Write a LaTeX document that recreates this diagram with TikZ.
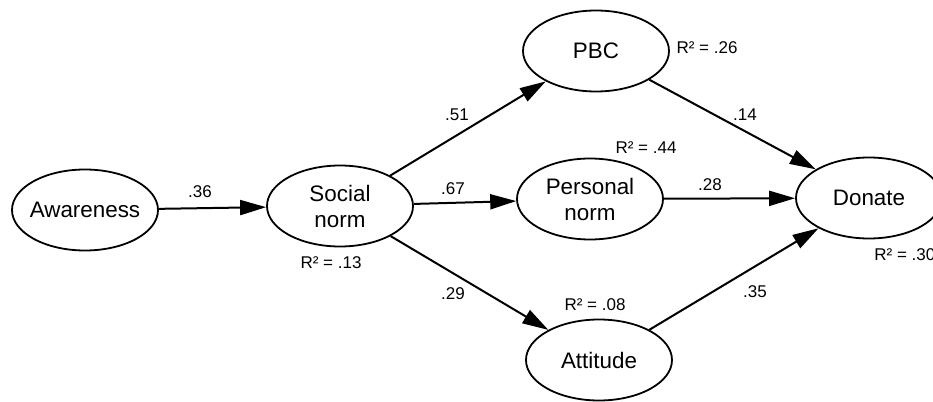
\documentclass[tikz,border=0pt]{standalone}
\usepackage{fontspec}
\setmainfont{Liberation Sans}
\usetikzlibrary{arrows.meta,shapes.geometric}

\begin{document}
\begin{tikzpicture}[x=0.5pt,y=-0.5pt,
  construct/.style={draw,ellipse,line width=0.9pt,minimum width=73pt,minimum height=40.5pt,
    inner xsep=-2pt,inner ysep=0pt,align=center,font=\fontsize{11.2}{13}\selectfont},
  link/.style={line width=1pt,-{Triangle[length=13pt,width=7.5pt]}},
  coef/.style={font=\fontsize{8.5}{10}\selectfont}]
\useasboundingbox (0,0) rectangle (933,402);
% constructs
\node[construct] (aware) at (85,210) {Awareness};
\node[construct] (social) at (340,206) {Social\\norm};
\node[construct] (pbc) at (596,51) {PBC};
\node[construct] (pnorm) at (590,199) {Personal\\norm};
\node[construct] (att) at (599,360) {Attitude};
\node[construct] (donate) at (869,198) {Donate};
% paths
\draw[link] (aware) -- (social);
\draw[link] (social) -- (pbc);
\draw[link] (social) -- (pnorm);
\draw[link] (social) -- (att);
\draw[link] (pbc) -- (donate);
\draw[link] (pnorm) -- (donate);
\draw[link] (att) -- (donate);
% coefficients
\node[coef] (c36) at (200,192) {.36};
\node[coef] (c51) at (457,115) {.51};
\node[coef] (c67) at (453,189) {.67};
\node[coef] (c29) at (453,294) {.29};
\node[coef] (c14) at (745,115) {.14};
\node[coef] (c28) at (710,185) {.28};
\node[coef] (c35) at (755,292) {.35};
% explained variance
\node[coef] (r13) at (331,263) {R² = .13};
\node[coef] (r26) at (707,48) {R² = .26};
\node[coef] (r44) at (646,148) {R² = .44};
\node[coef] (r08) at (595,305) {R² = .08};
\node[coef,anchor=west,inner xsep=0pt] (r30) at (874,255) {R² = .30};
\end{tikzpicture}
\end{document}
